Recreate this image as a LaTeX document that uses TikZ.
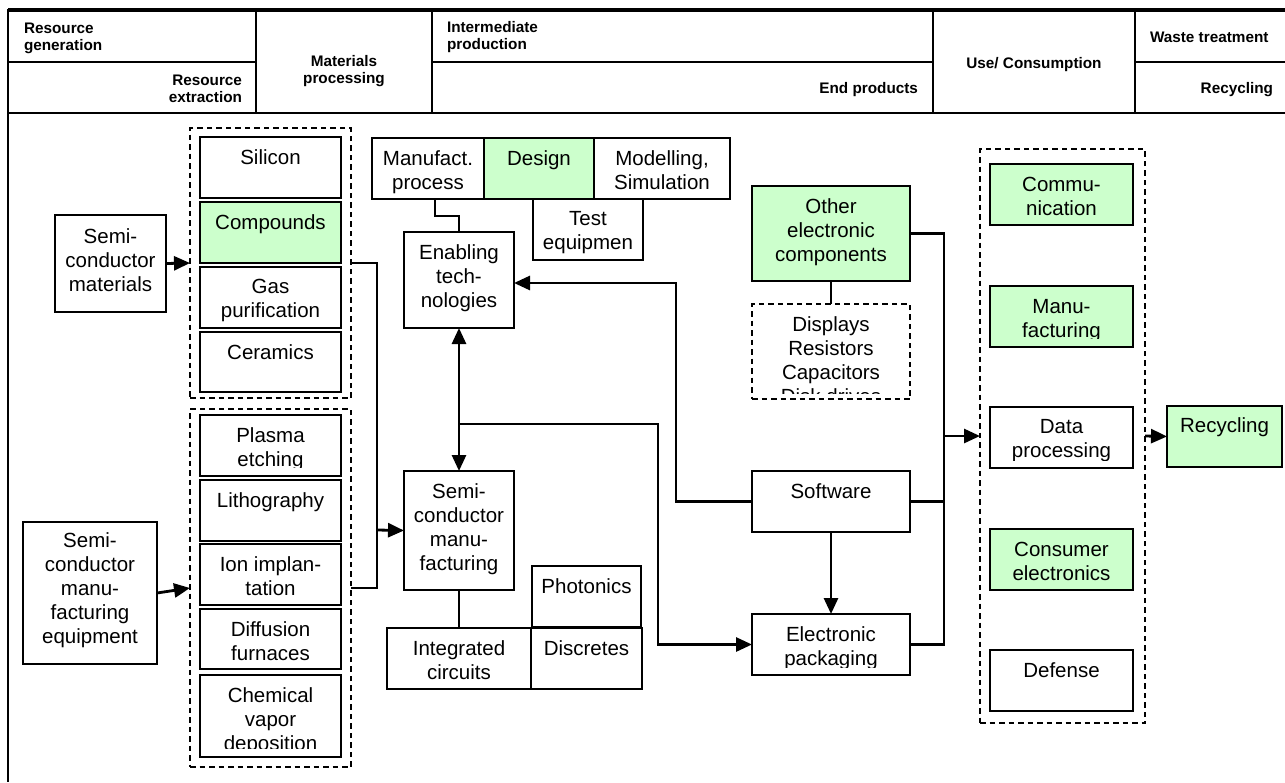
\documentclass[tikz,border=0pt]{standalone}
\usepackage{fontspec}
\setmainfont{Liberation Sans}
\usetikzlibrary{arrows.meta,fit,calc}
\definecolor{lightgreen}{RGB}{204,255,204}
\tikzset{
  boxframe/.style={draw=black,line width=2pt,fill=white,inner sep=0pt,outer sep=0pt},
  greenbox/.style={fill=lightgreen},
  groupbox/.style={draw=black,line width=1.6pt,dash pattern=on 5.5pt off 4pt,inner sep=0pt,outer sep=0pt},
  lbl/.style={inner sep=0pt,outer sep=0pt,align=center,font=\fontsize{20.5}{24}\selectfont},
  hdr/.style={inner sep=0pt,outer sep=0pt,font=\fontsize{15.3}{17.5}\selectfont\bfseries},
  conn/.style={line width=2.8pt},
  thinconn/.style={line width=1.5pt},
  arr/.style={conn,-{Triangle[length=16pt,width=14pt]}},
  dblarr/.style={conn,{Triangle[length=16pt,width=14pt]}-{Triangle[length=16pt,width=14pt]}},
  rule/.style={line width=2.2pt},
}
% distance between the bottom edge of a box and the bottom of its text area
\newcommand\textinset{2}
\newcommand\settextinset[1]{\renewcommand\textinset{#1}}
% \flowbox[first baseline offset]{name}{x1}{y1}{x2}{y2}{style}{text}
\newcommand\flowbox[8][27]{%
  \path (#3,#4) coordinate (#2-nw) (#5,#6) coordinate (#2-se);
  \node[boxframe,#7,fit=(#2-nw)(#2-se)] (#2) {};
  \begin{scope}
    \clip (#3,#4) rectangle (#5,{#6-\textinset});
    \node[lbl,anchor=north] (#2-t) at ({(#3+#5)/2},{#4+#1-16.8}) {\strut #8};
  \end{scope}}
% \groupframe{name}{x1}{y1}{x2}{y2}
\newcommand\groupframe[5]{%
  \path (#2,#3) coordinate (#1-nw) (#4,#5) coordinate (#1-se);
  \node[groupbox,fit=(#1-nw)(#1-se)] (#1) {};}

\begin{document}
\begin{tikzpicture}[x=1pt,y=-1pt]
\useasboundingbox (0,0) rectangle (1285,782);

% ---- stage header table ----
\draw[line width=3.2pt] (8,10) -- (1285,10);
\draw[rule] (8,113) -- (1285,113);
\draw[rule] (8,62) -- (256,62) (432,62) -- (933,62) (1135,62) -- (1285,62);
\draw[rule] (256,10) -- (256,113) (432,10) -- (432,113)
            (933,10) -- (933,113) (1135,10) -- (1135,113);
\draw[line width=1.8pt] (8,8.5) -- (8,782);

\node[hdr,anchor=north west,align=left] (h1) at (24,{33-12.25}) {\strut Resource\\generation};
\node[hdr,anchor=north east,align=right] (h2) at (242,{85-12.25}) {\strut Resource\\extraction};
\node[hdr,anchor=north,align=center] (h3) at (344,{66-12.25}) {\strut Materials\\processing};
\node[hdr,anchor=north west,align=left] (h4) at (447,{32-12.25}) {\strut Intermediate\\production};
\node[hdr,anchor=base east] (h5) at (918,93) {End products};
\node[hdr,anchor=base] (h6) at (1034,68) {Use/ Consumption};
\node[hdr,anchor=base west] (h7) at (1150,42) {Waste treatment};
\node[hdr,anchor=base east] (h8) at (1273,93) {Recycling};

% ---- resources ----
\flowbox[28]{smat}{55}{215}{166}{312}{}{Semi-\\conductor\\materials}
\flowbox[25]{sme}{23}{522}{157}{664}{}{Semi-\\conductor\\manu-\\facturing\\equipment}

% ---- materials and equipment groups ----
\groupframe{grpa}{190}{128}{351}{398}
\groupframe{grpb}{190}{409}{351}{767}
\flowbox{sil}{200}{137}{341}{198}{}{Silicon}
\flowbox{comp}{200}{202}{341}{263}{greenbox}{Compounds}
\flowbox[26]{gas}{200}{267}{341}{328}{}{Gas\\purification}
\flowbox{cer}{200}{332}{341}{392}{}{Ceramics}
\settextinset{9}
\flowbox{pla}{200}{415}{341}{476}{}{Plasma\\etching}
\settextinset{2}
\flowbox{lit}{200}{480}{341}{541}{}{Lithography}
\flowbox{ion}{200}{544}{341}{605}{}{Ion implan-\\tation}
\flowbox{dif}{200}{609}{341}{669}{}{Diffusion\\furnaces}
\settextinset{9}
\flowbox{cvd}{200}{675}{341}{757}{}{Chemical\\vapor\\deposition}
\settextinset{2}

% ---- intermediate production ----
\flowbox{manu}{372}{138}{484}{199}{}{Manufact.\\process}
\flowbox{des}{484}{138}{594}{199}{greenbox}{Design}
\flowbox{mod}{594}{138}{730}{199}{}{Modelling,\\Simulation}
\flowbox[26]{test}{533}{199}{643}{260}{}{Test\\equipmen}
\flowbox{enab}{404}{232}{514}{328}{}{Enabling\\tech-\\nologies}
\flowbox{semi}{404}{471}{514}{590}{}{Semi-\\conductor\\manu-\\facturing}
\flowbox{pho}{532}{566}{641}{627}{}{Photonics}
\flowbox{ic}{387}{628}{531}{689}{}{Integrated\\circuits}
\flowbox{dis}{531}{628}{642}{689}{}{Discretes}

% ---- end products ----
\flowbox{oth}{752}{186}{910}{281}{greenbox}{Other\\electronic\\components}
\path (752,304) coordinate (disp-nw) (910,399) coordinate (disp-se);
\node[groupbox,fill=white,fit=(disp-nw)(disp-se)] (disp) {};
\begin{scope}
  \clip (752,304) rectangle (910,393);
  \node[lbl,anchor=north] (disp-t) at (831,{304+27-16.8}) {\strut Displays\\Resistors\\Capacitors\\Disk drives};
\end{scope}
\flowbox{sw}{752}{471}{910}{532}{}{Software}
\settextinset{8}
\flowbox{ep}{752}{614}{910}{675}{}{Electronic\\packaging}

% ---- use / consumption ----
\groupframe{grpc}{980}{149}{1145}{723}
\settextinset{2}
\flowbox{com}{990}{164}{1133}{225}{greenbox}{Commu-\\nication}
\settextinset{8.5}
\flowbox{mfg}{990}{286}{1133}{347}{greenbox}{Manu-\\facturing}
\settextinset{8}
\flowbox[26]{dat}{990}{407}{1133}{468}{}{Data\\processing}
\settextinset{2}
\flowbox{con}{990}{529}{1133}{590}{greenbox}{Consumer\\electronics}
\flowbox{def}{990}{650}{1133}{711}{}{Defense}

% ---- recycling ----
\flowbox[26]{rec}{1167}{406}{1282}{467}{greenbox}{Recycling}

% ---- connectors ----
\coordinate (busa) at (377,530);
\coordinate (loop) at (459,424);
\coordinate (drop) at (658,0);
\coordinate (swup) at (676,283);
\coordinate (busc) at (944,0);

\draw[arr] (smat.east) -- (grpa.west);
\draw[arr] (sme.east) -- (grpb.west);
\draw[conn] (grpa.east) -| (busa) |- (grpb.east);
\draw[arr] (busa) -- (semi.west);

\draw[thinconn] ([xshift=7pt]manu.south) -- ++(0,17) -| (enab.north);
\draw[dblarr] (enab.south) -- (semi.north);
\draw[thinconn] (semi.south) -- (ic.north);
\draw[arr] (loop) -| (drop |- ep.west) -- (ep.west);
\draw[arr] (sw.west) -| (swup) -- (enab.east |- swup);
\draw[arr] (sw.south) -- (ep.north);
\draw[thinconn] (oth.south) -- (disp.north);

\draw[conn] (oth.east) -| (busc |- ep.east) -- (ep.east);
\draw[conn] (sw.east) -- (sw.east -| busc);
\draw[arr] (grpc.west -| busc) -- (grpc.west);
\draw[arr] (grpc.east) -- (rec.west);
\end{tikzpicture}
\end{document}
